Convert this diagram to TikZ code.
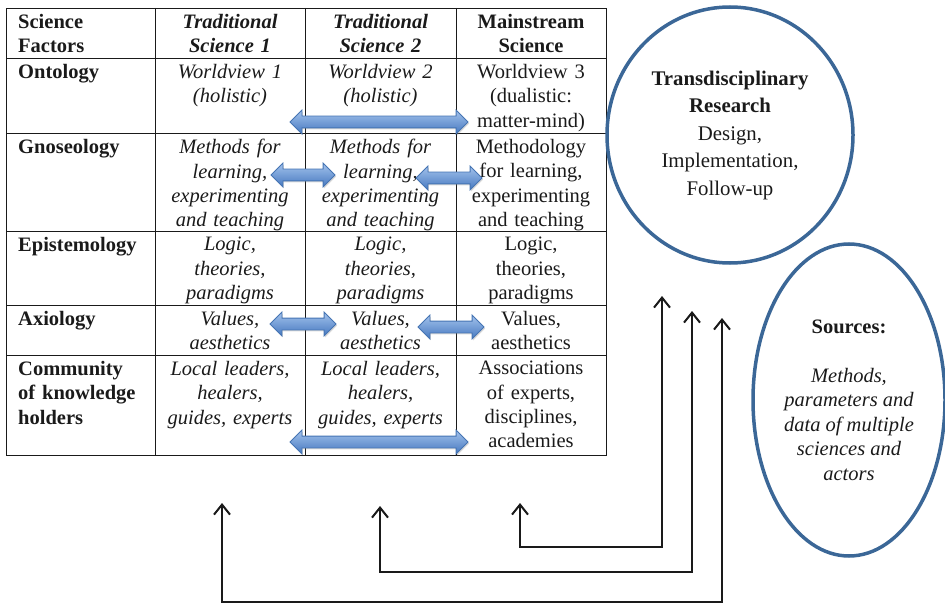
\documentclass[tikz,border=0pt]{standalone}
\usepackage{fontspec}
\setmainfont{LiberationSerif}[Extension=.ttf, UprightFont=*-Regular,
  BoldFont=*-Bold, ItalicFont=*-Italic, BoldItalicFont=*-BoldItalic]
\usetikzlibrary{arrows.meta,positioning,calc,shapes.geometric,shapes.arrows,shadows}

\definecolor{ink}{HTML}{1A1A1A}
\definecolor{ringblue}{HTML}{3B6797}
\definecolor{arrowtop}{HTML}{A3C2EC}
\definecolor{arrowbot}{HTML}{4679C0}
\definecolor{arrowline}{HTML}{4574B3}

\newcommand\cellfont{\fontsize{20.5}{24.4}\selectfont}
\newcommand\ringfont{\fontsize{20.8}{27.5}\selectfont}

\tikzset{
  cell/.style={anchor=north, inner sep=0pt, text width=146pt, align=center,
    font=\cellfont, text=ink},
  factor/.style={cell, anchor=north west, text width=135pt, align=left,
    font=\cellfont\bfseries},
  swap/.style={double arrow, double arrow head extend=6pt, inner xsep=0pt,
    inner ysep=5.5pt, minimum width=0pt, top color=arrowtop,
    bottom color=arrowbot, draw=arrowline, line width=0.8pt,
    drop shadow={shadow xshift=1pt, shadow yshift=-1.5pt, opacity=0.3}},
  flow/.style={draw=ink, line width=2pt,
    {Straight Barb[length=10pt,width=16pt]}-{Straight Barb[length=10pt,width=16pt]}},
  ring/.style={ellipse, draw=ringblue, line width=3.5pt, inner sep=0pt}
}

\begin{document}
\begin{tikzpicture}[x=1pt,y=-1pt]
\useasboundingbox (0,0) rectangle (945,604);

% table grid
\draw[ink] (6,8) rectangle (606,455);
\foreach \x in {155,305,456} \draw[ink] (\x,8) -- (\x,455);
\foreach \y in {58,133,231,305,355} \draw[ink] (6,\y) -- (606,\y);

% header
\node[factor] (hd0) at (18,14) {Science\\Factors};
\node[cell, font=\cellfont\bfseries\itshape] (hd1) at (230,14) {Traditional\\Science 1};
\node[cell, font=\cellfont\bfseries\itshape] (hd2) at (380.5,14) {Traditional\\Science 2};
\node[cell, font=\cellfont\bfseries] (hd3) at (531,14) {Mainstream\\Science};

% ontology
\node[factor] (onto0) at (18,64) {Ontology};
\node[cell, font=\cellfont\itshape] (onto1) at (230,64) {Worldview 1\\(holistic)};
\node[cell, font=\cellfont\itshape] (onto2) at (380.5,64) {Worldview 2\\(holistic)};
\node[cell] (onto3) at (531,64) {Worldview 3\\(dualistic:\\matter-mind)};

% gnoseology
\node[factor] (gnos0) at (18,139) {Gnoseology};
\node[cell, font=\cellfont\itshape] (gnos1) at (230,139) {Methods for\\learning,\\experimenting\\and teaching};
\node[cell, font=\cellfont\itshape] (gnos2) at (380.5,139) {Methods for\\learning,\\experimenting\\and teaching};
\node[cell] (gnos3) at (531,139) {Methodology\\for learning,\\experimenting\\and teaching};

% epistemology
\node[factor] (epis0) at (18,237) {Epistemology};
\node[cell, font=\cellfont\itshape] (epis1) at (230,237) {Logic,\\theories,\\paradigms};
\node[cell, font=\cellfont\itshape] (epis2) at (380.5,237) {Logic,\\theories,\\paradigms};
\node[cell] (epis3) at (531,237) {Logic,\\theories,\\paradigms};

% axiology
\node[factor] (axio0) at (18,311) {Axiology};
\node[cell, font=\cellfont\itshape] (axio1) at (230,311) {Values,\\aesthetics};
\node[cell, font=\cellfont\itshape] (axio2) at (380.5,311) {Values,\\aesthetics};
\node[cell] (axio3) at (531,311) {Values,\\aesthetics};

% community
\node[factor] (comm0) at (18,361) {Community\\of knowledge\\holders};
\node[cell, font=\cellfont\itshape] (comm1) at (230,361) {Local leaders,\\healers,\\guides, experts};
\node[cell, font=\cellfont\itshape] (comm2) at (380.5,361) {Local leaders,\\healers,\\guides, experts};
\node[cell] (comm3) at (531,361) {Associations\\of experts,\\disciplines,\\academies};

% blue exchange arrows
\node[swap, minimum height=178pt] (ontoSwap) at (379,122) {};
\node[swap, minimum height=64pt] (gnosSwapA) at (303,175) {};
\node[swap, minimum height=66pt] (gnosSwapB) at (449,178) {};
\node[swap, minimum height=66pt] (axioSwapA) at (303,324) {};
\node[swap, minimum height=66pt] (axioSwapB) at (451,327) {};
\node[swap, minimum height=178pt] (commSwap) at (379,442) {};

% circles
\node[ring, minimum width=246pt, minimum height=256pt] (research) at (730,135) {};
\node[align=center, font=\ringfont, text=ink] (researchText) at (research.center)
  {\textbf{Transdisciplinary}\\\textbf{Research}\\Design,\\Implementation,\\Follow-up};
\node[ring, minimum width=192pt, minimum height=312pt] (sources) at (849,400) {};
\node[align=center, font=\cellfont\itshape, text=ink] (sourcesText) at (sources.center)
  {\textbf{\upshape Sources:}\\[25pt]Methods,\\parameters and\\data of multiple\\sciences and\\actors};

% feedback lines
\coordinate (colA) at (520,503);
\coordinate (colB) at (380,506);
\coordinate (colC) at (222,503);
\coordinate (resA) at (662,296);
\coordinate (resB) at (692,311);
\coordinate (resC) at (722,318);
\draw[flow] (colA) -- ++(0,44) -| (resA);
\draw[flow] (colB) -- ++(0,66) -| (resB);
\draw[flow] (colC) -- ++(0,99) -| (resC);
\end{tikzpicture}
\end{document}
